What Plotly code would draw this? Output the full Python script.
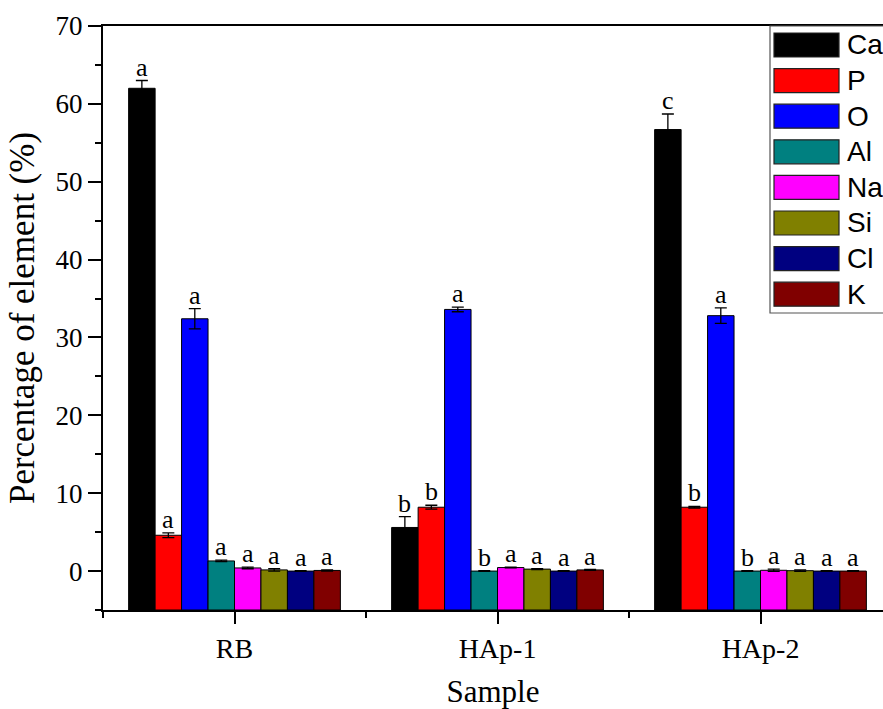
import plotly.graph_objects as go

# ---- data ----
samples = ["RB", "HAp-1", "HAp-2"]
elements = ["Ca", "P", "O", "Al", "Na", "Si", "Cl", "K"]
colors = ["#000000", "#FF0000", "#0000FF", "#008080", "#FF00FF", "#808000", "#000080", "#800000"]

# values[element] = [RB, HAp-1, HAp-2]
values = {
    "Ca": [62.0, 5.6, 56.7],
    "P":  [4.6, 8.2, 8.2],
    "O":  [32.4, 33.6, 32.8],
    "Al": [1.3, 0.0, 0.0],
    "Na": [0.4, 0.45, 0.1],
    "Si": [0.15, 0.25, 0.05],
    "Cl": [0.0, 0.0, 0.0],
    "K":  [0.08, 0.15, 0.0],
}
errors = {
    "Ca": [1.0, 1.4, 2.0],
    "P":  [0.3, 0.25, 0.1],
    "O":  [1.3, 0.3, 1.0],
    "Al": [0.1, 0.05, 0.05],
    "Na": [0.1, 0.05, 0.15],
    "Si": [0.15, 0.05, 0.1],
    "Cl": [0.05, 0.05, 0.05],
    "K":  [0.08, 0.05, 0.05],
}
letters = {
    "Ca": ["a", "b", "c"],
    "P":  ["a", "b", "b"],
    "O":  ["a", "a", "a"],
    "Al": ["a", "b", "b"],
    "Na": ["a", "a", "a"],
    "Si": ["a", "a", "a"],
    "Cl": ["a", "a", "a"],
    "K":  ["a", "a", "a"],
}
y_min, y_max = -5, 70

# ---- layout geometry (pixels) ----
W, H = 883, 709
L, R, T, B = 103, 0, 26, 99
plot_w = W - L - R
plot_h = H - T - B
px_per_cat = 263.0
x_lo = -0.5
x_hi = x_lo + plot_w / px_per_cat

serif = "Liberation Serif, Times New Roman, serif"
sans = "Liberation Sans, Arial, sans-serif"

fig = go.Figure()
n = len(elements)
bargap = 0.195
bw = (1 - bargap) / n
xs = list(range(len(samples)))

annotations = []
for j, el in enumerate(elements):
    vals = values[el]
    fig.add_trace(go.Bar(
        name=el,
        x=xs,
        y=[v - y_min for v in vals],
        base=y_min,
        marker=dict(color=colors[j], line=dict(color="black", width=1)),
        error_y=dict(type="data", array=errors[el], visible=True,
                     color="black", thickness=1.3, width=6),
        showlegend=False,
    ))
    for i in xs:
        annotations.append(dict(
            x=i + (j - (n - 1) / 2) * bw,
            y=vals[i] + errors[el][i],
            xref="x", yref="y",
            text=letters[el][i],
            showarrow=False,
            yanchor="bottom",
            yshift=-3,
            font=dict(family=serif, size=26, color="black"),
        ))

# ---- custom legend with wide swatches ----
def px2x(p):
    return (p - L) / plot_w

def px2y(p):
    return (H - B - p) / plot_h

shapes = [dict(type="rect", xref="paper", yref="paper",
               x0=px2x(770), x1=px2x(884), y0=px2y(313), y1=px2y(26),
               line=dict(color="#555555", width=1.2), fillcolor="white", layer="above")]
for j, el in enumerate(elements):
    cy = 45 + 35.6 * j
    shapes.append(dict(type="rect", xref="paper", yref="paper",
                       x0=px2x(774), x1=px2x(839), y0=px2y(cy + 12), y1=px2y(cy - 12),
                       line=dict(color="#222222", width=1.2), fillcolor=colors[j], layer="above"))
    annotations.append(dict(x=px2x(845), y=px2y(cy), xref="paper", yref="paper",
                            text=el, showarrow=False, xanchor="left", yanchor="middle",
                            font=dict(family=sans, size=28, color="black")))

fig.update_layout(
    width=W, height=H,
    margin=dict(l=L, r=R, t=T, b=B, autoexpand=False),
    paper_bgcolor="white", plot_bgcolor="white",
    barmode="group", bargap=bargap, bargroupgap=0,
    showlegend=False,
    shapes=shapes,
    annotations=annotations,
    font=dict(family=serif, color="black"),
)
fig.update_xaxes(
    range=[x_lo, x_hi],
    tickmode="array", tickvals=xs, ticktext=samples,
    ticks="outside", ticklen=12, tickwidth=1.5, tickcolor="black",
    minor=dict(tickmode="linear", tick0=-0.5, dtick=1, ticks="outside",
               ticklen=6, tickwidth=1.5, tickcolor="black"),
    showline=True, linecolor="black", linewidth=2, mirror=True,
    showgrid=False, zeroline=False,
    tickfont=dict(family=serif, size=28, color="black"),
    title=dict(text="Sample", font=dict(family=serif, size=31, color="black"), standoff=22),
)
fig.update_yaxes(
    range=[y_min, y_max],
    tick0=0, dtick=10,
    ticks="outside", ticklen=13, tickwidth=1.5, tickcolor="black",
    minor=dict(tick0=0, dtick=5, ticks="outside", ticklen=6, tickwidth=1.5, tickcolor="black"),
    showline=True, linecolor="black", linewidth=2,
    showgrid=False, zeroline=False,
    tickfont=dict(family=serif, size=27, color="black"),
    title=dict(text="Percentage of element (%)", font=dict(family=serif, size=35, color="black"),
               standoff=10),
)

fig.write_html("out.html")
